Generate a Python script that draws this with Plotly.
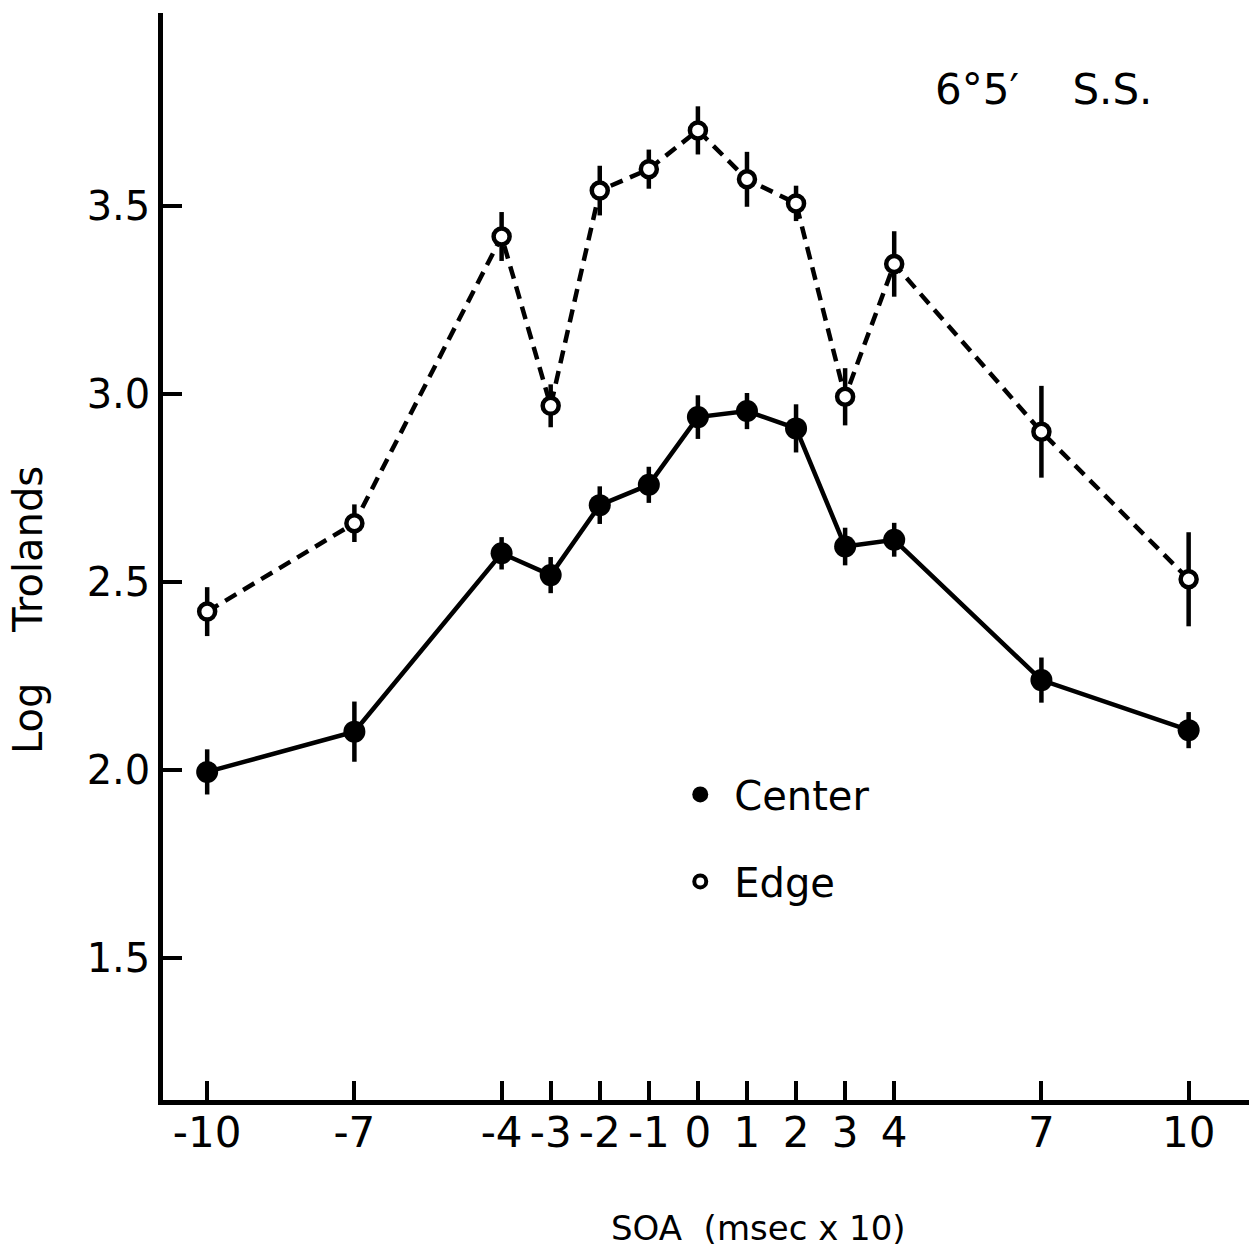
import plotly.graph_objects as go

# SOA values (msec x 10)
soa = [-10, -7, -4, -3, -2, -1, 0, 1, 2, 3, 4, 7, 10]

# Center (filled, solid line)
center = [1.995, 2.102, 2.576, 2.518, 2.704, 2.758, 2.938, 2.954, 2.908, 2.594, 2.612, 2.239, 2.106]
center_err = [0.060, 0.080, 0.043, 0.048, 0.050, 0.048, 0.058, 0.048, 0.064, 0.050, 0.045, 0.060, 0.048]

# Edge (open, dashed line)
edge = [2.421, 2.656, 3.418, 2.968, 3.540, 3.597, 3.700, 3.570, 3.506, 2.992, 3.345, 2.899, 2.507]
edge_err = [0.065, 0.050, 0.065, 0.057, 0.066, 0.052, 0.064, 0.073, 0.047, 0.076, 0.087, 0.122, 0.125]

x_ticks = [-10, -7, -4, -3, -2, -1, 0, 1, 2, 3, 4, 7, 10]
x_ticktext = ["-10", "-7", "-4", "-3", "-2", "-1", "0", "1", "2", "3", "4", "7", "10"]
y_ticks = [1.5, 2.0, 2.5, 3.0, 3.5]
y_ticktext = ["1.5", "2.0", "2.5", "3.0", "3.5"]

FONT = "DejaVu Sans"
BLACK = "#000000"

fig = go.Figure()

fig.add_trace(go.Scatter(
    x=soa, y=edge, mode="lines+markers", showlegend=False,
    line=dict(color=BLACK, width=4.5, dash="13px,8px"),
    marker=dict(symbol="circle", size=16, color="white", line=dict(color=BLACK, width=4.5)),
    error_y=dict(type="data", array=edge_err, visible=True, thickness=4.5, width=0, color=BLACK),
))

fig.add_trace(go.Scatter(
    x=soa, y=center, mode="lines+markers", showlegend=False,
    line=dict(color=BLACK, width=4.5),
    marker=dict(symbol="circle", size=22, color=BLACK),
    error_y=dict(type="data", array=center_err, visible=True, thickness=4.5, width=0, color=BLACK),
))

# legend entries
fig.add_trace(go.Scatter(
    x=[None], y=[None], mode="markers", name="Center", legendgroup="c",
    marker=dict(symbol="circle", size=22, color=BLACK),
))
fig.add_trace(go.Scatter(
    x=[None], y=[None], mode="markers", name="Edge", legendgroup="e",
    marker=dict(symbol="circle", size=12, color="white", line=dict(color=BLACK, width=4)),
))

fig.update_layout(
    width=1249, height=1258,
    margin=dict(l=163, r=0, t=13, b=158),
    paper_bgcolor="white", plot_bgcolor="white",
    font=dict(family=FONT, color=BLACK),
    showlegend=True,
    legend=dict(
        x=0.4634, y=0.311, xanchor="left", yanchor="top",
        font=dict(family=FONT, size=40, color=BLACK),
        bgcolor="rgba(0,0,0,0)", borderwidth=0,
        traceorder="grouped", tracegroupgap=32, itemsizing="trace",
        itemwidth=58,
    ),
    xaxis=dict(
        range=[-10.90, 11.23], showgrid=False, zeroline=False,
        showline=True, linecolor=BLACK, linewidth=4.5,
        ticks="inside", ticklen=19, tickwidth=4, tickcolor=BLACK,
        tickvals=x_ticks, ticktext=x_ticktext,
        tickfont=dict(family=FONT, size=42, color=BLACK),
        ticklabelstandoff=-8,
    ),
    yaxis=dict(
        range=[1.123, 4.012], showgrid=False, zeroline=False,
        showline=True, linecolor=BLACK, linewidth=4.5,
        ticks="inside", ticklen=19, tickwidth=4, tickcolor=BLACK,
        tickvals=y_ticks, ticktext=y_ticktext,
        tickfont=dict(family=FONT, size=40, color=BLACK),
    ),
    annotations=[
        dict(text="6°5′\u00a0\u00a0\u00a0 S.S.", xref="paper", yref="paper",
             x=0.8108, y=0.9292, xanchor="center", yanchor="middle", showarrow=False,
             font=dict(family=FONT, size=42, color=BLACK)),
        dict(text="Log\u00a0\u00a0\u00a0 Trolands", xref="paper", yref="paper",
             x=-0.1243, y=0.4508, xanchor="center", yanchor="middle", showarrow=False,
             textangle=-90, font=dict(family=FONT, size=40, color=BLACK)),
        dict(text="SOA\u00a0 (msec x 10)", xref="paper", yref="paper",
             x=0.5488, y=-0.1178, xanchor="center", yanchor="middle", showarrow=False,
             font=dict(family=FONT, size=34, color=BLACK)),
    ],
)

fig.write_html("out.html")
